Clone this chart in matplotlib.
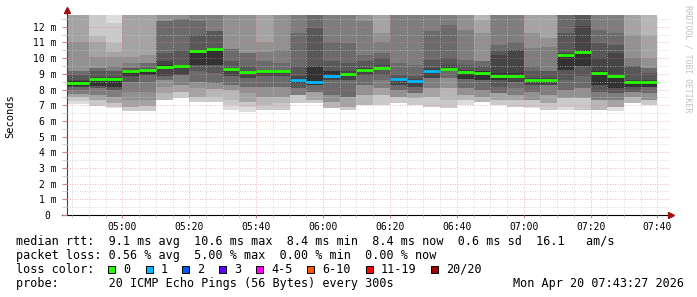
import matplotlib
matplotlib.use("Agg")
import matplotlib.pyplot as plt
import matplotlib.dates as mdates
from matplotlib.patches import Rectangle
import numpy as np
import pandas as pd

# column end times, 5 minute steps
t_end = pd.date_range("2026-04-20 04:50", "2026-04-20 07:40", freq="5min")
t_start, t_stop = pd.Timestamp("2026-04-20 04:43:27"), pd.Timestamp("2026-04-20 07:43:27")

# sorted ping rtts per column (ms), p01 fastest .. p20 slowest, 14 = off chart
p01 = [7.08, 6.93, 6.85, 6.62, 6.64, 7.33, 7.43, 7.22, 7.22, 6.70, 6.59, 6.69, 6.69, 7.12, 7.12, 6.80, 6.69, 7.01, 7.01, 7.12, 7.01, 6.90, 6.80, 7.02, 7.22, 7.01, 6.90, 6.81, 6.69, 6.70, 6.69, 6.69, 6.66, 7.12, 7.01]
p02 = [7.27, 6.96, 6.87, 6.64, 6.66, 7.34, 7.44, 7.23, 7.23, 7.02, 6.91, 6.70, 6.70, 7.13, 7.13, 6.81, 6.70, 7.02, 7.02, 7.13, 7.02, 6.91, 6.81, 7.34, 7.23, 7.02, 6.91, 6.91, 6.70, 6.91, 6.70, 6.70, 6.91, 7.13, 7.02]
p03 = [7.55, 7.34, 7.13, 6.91, 6.96, 7.34, 7.87, 7.55, 7.55, 7.34, 7.23, 7.02, 7.13, 7.66, 7.34, 6.81, 6.91, 7.02, 7.66, 7.55, 7.44, 7.55, 7.34, 7.34, 7.23, 7.34, 7.34, 7.34, 7.13, 7.44, 7.44, 6.70, 6.91, 7.13, 7.34]
p04 = [7.55, 7.34, 7.13, 6.91, 6.96, 7.76, 7.87, 7.55, 8.02, 7.98, 7.23, 7.55, 7.55, 7.66, 7.34, 7.23, 6.91, 7.66, 7.66, 7.55, 7.44, 7.55, 8.08, 7.66, 7.55, 7.34, 7.34, 7.34, 7.13, 7.44, 7.44, 7.34, 6.91, 7.55, 7.34]
p05 = [7.72, 7.66, 7.55, 7.34, 7.34, 8.19, 8.29, 8.08, 8.02, 7.98, 7.76, 7.55, 7.55, 7.66, 7.87, 7.23, 7.55, 7.66, 8.08, 7.55, 7.76, 8.08, 8.08, 7.66, 7.55, 7.76, 7.66, 7.34, 7.66, 7.44, 7.44, 7.34, 7.34, 7.55, 7.34]
p06 = [7.72, 7.66, 7.55, 7.87, 7.87, 8.61, 8.29, 8.51, 8.44, 8.29, 8.19, 8.19, 8.19, 7.66, 7.87, 7.66, 7.55, 8.29, 8.08, 7.98, 7.76, 8.08, 8.72, 8.08, 7.98, 7.76, 7.66, 7.87, 7.66, 7.98, 8.08, 7.34, 7.34, 7.87, 7.76]
p07 = [7.98, 8.08, 7.98, 8.51, 8.51, 8.61, 8.93, 8.51, 8.44, 8.29, 8.19, 8.19, 8.19, 8.08, 7.87, 7.66, 7.55, 8.29, 8.61, 7.98, 7.76, 8.72, 8.72, 8.08, 7.98, 7.76, 8.08, 7.87, 8.29, 7.98, 8.08, 7.87, 7.76, 7.87, 7.76]
p08 = [8.15, 8.08, 7.98, 8.51, 8.93, 8.87, 8.93, 9.15, 9.04, 8.87, 8.72, 8.83, 8.83, 8.08, 8.29, 8.61, 8.61, 8.93, 8.93, 8.29, 8.19, 8.72, 9.15, 8.68, 8.61, 8.19, 8.51, 8.29, 8.29, 8.61, 8.83, 7.87, 7.76, 7.87, 8.15]
p09 = [8.15, 8.23, 8.15, 8.87, 8.93, 8.87, 8.93, 9.57, 9.57, 8.87, 8.72, 8.83, 8.83, 8.40, 8.29, 8.61, 8.61, 8.93, 9.28, 8.29, 8.19, 8.72, 9.20, 8.68, 8.61, 8.61, 8.51, 8.29, 8.29, 9.25, 9.47, 8.29, 8.08, 8.19, 8.15]
p10 = [8.20, 8.23, 8.15, 8.87, 8.93, 9.38, 9.50, 9.57, 9.57, 9.28, 9.10, 9.16, 9.18, 8.40, 8.29, 8.85, 8.95, 9.22, 9.30, 8.64, 8.55, 9.18, 9.25, 8.68, 8.61, 8.61, 8.78, 8.58, 8.56, 9.25, 9.47, 8.29, 8.08, 8.19, 8.15]
p11 = [8.55, 8.72, 8.74, 9.22, 9.27, 9.55, 9.56, 10.50, 10.63, 9.35, 9.14, 9.22, 9.23, 8.65, 9.45, 9.15, 9.05, 9.30, 9.40, 8.70, 8.62, 9.25, 9.40, 9.18, 9.15, 9.04, 9.04, 8.68, 8.66, 10.25, 10.53, 9.15, 8.93, 8.55, 8.55]
p12 = [8.61, 8.79, 8.79, 9.25, 9.28, 9.79, 9.57, 10.53, 10.64, 9.36, 9.15, 9.23, 9.24, 8.83, 9.47, 9.15, 9.15, 9.36, 9.57, 8.72, 8.65, 9.36, 9.57, 9.25, 9.21, 10.21, 10.53, 8.72, 8.72, 10.32, 12.02, 10.00, 10.32, 8.61, 8.61]
p13 = [8.93, 9.15, 9.15, 9.36, 9.36, 10.32, 10.53, 11.49, 11.76, 9.79, 9.47, 9.25, 9.25, 9.47, 11.91, 9.79, 9.68, 9.79, 10.00, 8.93, 8.83, 9.89, 10.00, 9.57, 9.47, 10.53, 10.53, 9.15, 9.15, 11.59, 14, 10.95, 10.85, 9.47, 9.04]
p14 = [9.15, 9.36, 9.15, 9.36, 9.68, 12.34, 12.49, 12.34, 11.76, 10.57, 10.32, 9.79, 9.68, 11.59, 14, 11.06, 10.95, 10.21, 10.32, 9.68, 9.57, 11.74, 12.13, 9.89, 9.79, 10.85, 11.06, 9.47, 9.15, 14, 14, 11.81, 11.59, 9.47, 9.36]
p15 = [9.15, 9.36, 9.47, 9.68, 9.68, 12.34, 12.49, 14, 14, 10.57, 10.32, 10.42, 10.53, 14, 14, 14, 14, 12.34, 11.06, 14, 14, 14, 14, 11.81, 9.79, 14, 14, 10.64, 10.74, 14, 14, 14, 14, 10.00, 9.36]
p16 = [11.06, 10.06, 10.10, 10.10, 10.21, 14, 14, 14, 14, 14, 14, 11.06, 14, 14, 14, 14, 14, 14, 11.59, 14, 14, 14, 14, 14, 11.59, 14, 14, 11.59, 11.27, 14, 14, 14, 14, 11.49, 10.00]
p17 = [14, 11.06, 10.42, 14, 14, 14, 14, 14, 14, 14, 14, 14, 14, 14, 14, 14, 14, 14, 14, 14, 14, 14, 14, 14, 12.44, 14, 14, 14, 14, 14, 14, 14, 14, 14, 11.49]
p18 = [14, 11.38, 10.95, 14, 14, 14, 14, 14, 14, 14, 14, 14, 14, 14, 14, 14, 14, 14, 14, 14, 14, 14, 14, 14, 14, 14, 14, 14, 14, 14, 14, 14, 14, 14, 14]
p19 = [14, 14, 12.23, 14, 14, 14, 14, 14, 14, 14, 14, 14, 14, 14, 14, 14, 14, 14, 14, 14, 14, 14, 14, 14, 14, 14, 14, 14, 14, 14, 14, 14, 14, 14, 14]
p20 = [14] * 35

median = [8.44, 8.66, 8.68, 9.19, 9.25, 9.46, 9.53, 10.45, 10.61, 9.32, 9.13, 9.19, 9.21, 8.60, 8.51, 8.89, 8.98, 9.25, 9.34, 8.66, 8.57, 9.21, 9.30, 9.13, 9.08, 8.89, 8.83, 8.62, 8.60, 10.17, 10.42, 9.06, 8.83, 8.49, 8.47]
loss = [0, 0, 0, 0, 0, 0, 0, 0, 0, 0, 0, 0, 0, 1, 1, 1, 0, 0, 0, 1, 1, 1, 0, 0, 0, 0, 0, 0, 0, 0, 0, 0, 0, 0, 0]

loss_labels = ["0", "1", "2", "3", "4-5", "6-10", "11-19", "20/20"]
loss_colors = ["#26ff00", "#00b8ff", "#0059ff", "#5e00ff", "#ff00ff", "#ff5500", "#ff0000", "#a10000"]

pings = [p01, p02, p03, p04, p05, p06, p07, p08, p09, p10,
         p11, p12, p13, p14, p15, p16, p17, p18, p19, p20]

mono = "DejaVu Sans Mono"
plt.rcParams["font.family"] = mono

W, H = 697, 297
fig = plt.figure(figsize=(W / 100, H / 100), dpi=100)
fig.patch.set_facecolor("white")
ax = fig.add_axes([67 / W, 82 / H, 602 / W, 200 / H])

step = pd.Timedelta(minutes=5)
lefts = list(t_end - step)
lefts[0] = t_start
edges = lefts + [t_end[-1]]

# smoke: nested bands, outer pairs light, inner pairs dark
for k in range(10):
    lo = np.array(pings[k] + [pings[k][-1]])
    hi = np.array(pings[19 - k] + [pings[19 - k][-1]])
    c = int(190 / 10 * (10 - (k + 1))) + 50
    ax.fill_between(edges, lo, hi, step="post", color="#%02x%02x%02x" % (c, c, c),
                    linewidth=0, zorder=1)

# median bars colored by loss
for i in range(len(median)):
    ax.hlines(median[i], lefts[i], t_end[i], colors=loss_colors[loss[i]],
              linewidth=2.0, zorder=4)

ax.set_xlim(t_start, t_stop)
ax.set_ylim(0, 12.75)

ax.xaxis.set_major_locator(mdates.MinuteLocator(byminute=[0, 20, 40]))
ax.xaxis.set_minor_locator(mdates.MinuteLocator(byminute=range(0, 60, 5)))
ax.xaxis.set_major_formatter(mdates.DateFormatter("%H:%M"))
yt = list(range(0, 13))
ax.set_yticks(yt)
ax.set_yticklabels(["0 "] + ["%d m" % v for v in yt[1:]])
ax.set_yticks(np.arange(0.5, 12.75, 1.0), minor=True)

ax.set_axisbelow(False)
ax.grid(which="major", color="#e08080", alpha=0.75, linestyle=(0, (1, 2)), linewidth=0.6, zorder=3)
ax.grid(which="minor", color="#c8c8c8", alpha=0.9, linestyle=(0, (1, 2)), linewidth=0.6, zorder=3)

ax.tick_params(which="both", labelsize=7, colors="#333333", labelcolor="black")
ax.tick_params(axis="y", which="major", length=3.5, pad=4, color="#e08080")
ax.tick_params(axis="y", which="minor", length=3.5, color="#c8c8c8")
ax.tick_params(axis="x", which="major", length=2, pad=3, color="#e08080")
ax.tick_params(axis="x", which="minor", length=2, color="#c8c8c8")

for s in ["top", "right"]:
    ax.spines[s].set_visible(False)
ax.spines["left"].set_color("#404040")
ax.spines["bottom"].set_color("black")
ax.spines["left"].set_linewidth(0.8)
ax.spines["bottom"].set_linewidth(0.8)

# arrow heads at the ends of the axes
ax.plot([0], [1.025], marker="^", color="#a01010", markersize=4, transform=ax.transAxes, clip_on=False, zorder=6)
ax.plot([1.003], [0], marker=">", color="#a01010", markersize=4, transform=ax.transAxes, clip_on=False, zorder=6)
ax.plot([0, 0], [1.0, 1.02], color="#404040", linewidth=0.8, transform=ax.transAxes, clip_on=False)
ax.plot([-0.008, 0], [0, 0], color="black", linewidth=0.8, transform=ax.transAxes, clip_on=False)

fig.text(10 / W, 1 - 116 / H, "Seconds", rotation=90, ha="center", va="center", fontsize=7.5)
fig.text(688 / W, 1 - 59 / H, "RRDTOOL / TOBI OETIKER", rotation=270, ha="center", va="center",
         fontsize=5.9, color="#c0c0c0")

fs = 8.5
fig.text(16 / W, 1 - 245 / H,
         "median rtt:  9.1 ms avg  10.6 ms max  8.4 ms min  8.4 ms now  0.6 ms sd  16.1   am/s",
         fontsize=fs, va="baseline")
fig.text(16 / W, 1 - 259 / H,
         "packet loss: 0.56 % avg  5.00 % max  0.00 % min  0.00 % now",
         fontsize=fs, va="baseline")
fig.text(16 / W, 1 - 273 / H, "loss color:", fontsize=fs, va="baseline")
box_x = [108, 146, 182, 219, 256, 307, 366, 431]
for bx, lab, col in zip(box_x, loss_labels, loss_colors):
    fig.patches.append(Rectangle((bx / W, 1 - 273 / H), 7 / W, 7 / H, transform=fig.transFigure,
                                 facecolor=col, edgecolor="black", linewidth=0.7))
    fig.text((bx + 15) / W, 1 - 273 / H, lab, fontsize=fs, va="baseline")
fig.text(16 / W, 1 - 287 / H, "probe:       20 ICMP Echo Pings (56 Bytes) every 300s",
         fontsize=fs, va="baseline")
fig.text(513 / W, 1 - 287 / H, "Mon Apr 20 07:43:27 2026", fontsize=fs, va="baseline")

fig.savefig("out.png", dpi=100, facecolor="white")
